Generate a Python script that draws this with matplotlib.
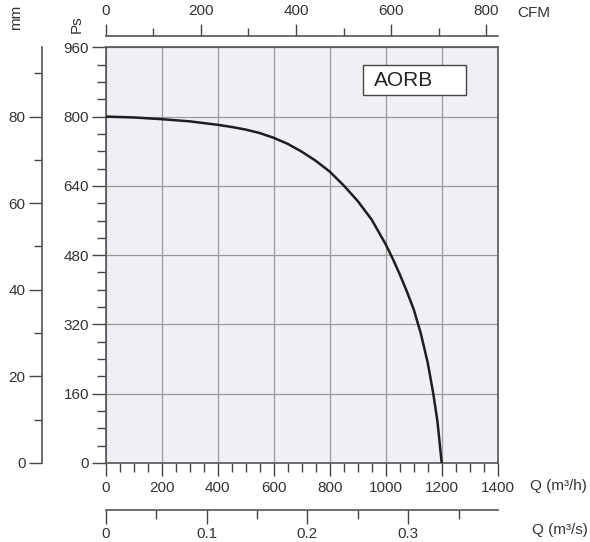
import matplotlib
matplotlib.use("Agg")
import matplotlib.pyplot as plt
from matplotlib.ticker import MultipleLocator, FixedLocator, FuncFormatter
from matplotlib.patches import Rectangle

plt.rcParams['font.family'] = ['Liberation Sans', 'DejaVu Sans']

# Data: flow rate Q (m3/h) vs static pressure Ps (Pa)
flow_m3h = [0, 100, 200, 300, 400, 450, 500, 550, 600, 650, 700, 750, 800, 850, 900,
            950, 1000, 1025, 1050, 1075, 1100, 1125, 1150, 1170, 1185, 1200]
pressure_pa = [800, 798, 794, 789, 781, 776, 770, 762, 751, 737, 719, 698, 673, 641, 605,
               562, 505, 472, 436, 397, 355, 300, 232, 160, 95, 0]
label = "AORB"

q_ticks = [0, 200, 400, 600, 800, 1000, 1200, 1400]
ps_ticks = [0, 160, 320, 480, 640, 800, 960]
cfm_ticks = [0, 200, 400, 600, 800]
m3s_ticks = [0, 0.1, 0.2, 0.3]
mm_ticks = [0, 20, 40, 60, 80]

W, H = 590, 542
fig = plt.figure(figsize=(W / 100, H / 100), dpi=100)
x0, x1 = 105.7, 497.7
y0, y1 = 463.0, 47.3
ax = fig.add_axes([x0 / W, 1 - y0 / H, (x1 - x0) / W, (y0 - y1) / H])
ax.set_facecolor('#eef0f4')

ax.plot(flow_m3h, pressure_pa, color='#1e1e1e', lw=1.8, zorder=3,
        solid_joinstyle='round')
ax.set_xlim(0, 1400)
ax.set_ylim(0, 960)

edge = '#555555'
tick_kw = dict(colors='#444444', labelcolor='#333333', labelsize=11)
ax.xaxis.set_major_locator(FixedLocator(q_ticks))
ax.xaxis.set_minor_locator(MultipleLocator(50))
ax.yaxis.set_major_locator(FixedLocator(ps_ticks))
ax.yaxis.set_minor_locator(MultipleLocator(40))
ax.tick_params(axis='x', which='major', direction='out', length=9, width=1, pad=4, **tick_kw)
ax.tick_params(axis='x', which='minor', direction='out', length=6.5, width=1, colors='#444444')
ax.tick_params(axis='y', which='major', direction='out', length=10, width=1, pad=2, **tick_kw)
ax.tick_params(axis='y', which='minor', direction='out', length=6.5, width=1, colors='#444444')
ax.grid(True, which='major', color='#9a9a9a', lw=0.9)
ax.set_axisbelow(True)
for s in ax.spines.values():
    s.set_color(edge)
    s.set_linewidth(1.2)

fmt = FuncFormatter(lambda v, _: f"{v:g}")

# Top CFM axis
cfm_per_m3h = 0.58858
top = ax.secondary_xaxis(1 + 11 / (y0 - y1),
                         functions=(lambda q: q * cfm_per_m3h, lambda c: c / cfm_per_m3h))
top.xaxis.set_major_locator(FixedLocator(cfm_ticks))
top.xaxis.set_minor_locator(MultipleLocator(100))
top.xaxis.set_major_formatter(fmt)
top.tick_params(which='major', direction='out', length=9, width=1, pad=4, **tick_kw)
top.tick_params(which='minor', direction='out', length=6, width=1, colors='#444444')
top.spines['top'].set_color(edge)
top.spines['top'].set_linewidth(1.2)

# Bottom m3/s axis
bot = ax.secondary_xaxis(-(510 - y0) / (y0 - y1),
                         functions=(lambda q: q / 3600.0, lambda s: s * 3600.0))
bot.xaxis.set_major_locator(FixedLocator(m3s_ticks))
bot.xaxis.set_minor_locator(FixedLocator([0.05, 0.15, 0.25, 0.35]))
bot.xaxis.set_major_formatter(fmt)
bot.tick_params(which='major', direction='out', length=10, width=1, pad=2, **tick_kw)
bot.tick_params(which='minor', direction='out', length=6.5, width=1, colors='#444444')
bot.spines['bottom'].set_color(edge)
bot.spines['bottom'].set_linewidth(1.2)

# Left mm axis
left = ax.secondary_yaxis((41.5 - x0) / (x1 - x0),
                          functions=(lambda p: p / 10.0, lambda m: m * 10.0))
left.yaxis.set_major_locator(FixedLocator(mm_ticks))
left.yaxis.set_minor_locator(FixedLocator([10, 30, 50, 70, 90]))
left.yaxis.set_major_formatter(fmt)
left.tick_params(which='major', direction='out', length=9.5, width=1, pad=2, **tick_kw)
left.tick_params(which='minor', direction='out', length=6, width=1, colors='#444444')
left.spines['left'].set_color(edge)
left.spines['left'].set_linewidth(1.2)

# Axis titles
fig.text(16 / W, 1 - 17 / H, 'mm', rotation=90, ha='center', va='center', fontsize=11, color='#333333')
fig.text(77 / W, 1 - 24 / H, 'Ps', rotation=90, ha='center', va='center', fontsize=11, color='#333333')
fig.text(517 / W, 1 - 13 / H, 'CFM', ha='left', va='center', fontsize=11, color='#333333')
fig.text(530 / W, 1 - 486 / H, 'Q (m³/h)', ha='left', va='center', fontsize=11, color='#333333')
fig.text(532 / W, 1 - 530 / H, 'Q (m³/s)', ha='left', va='center', fontsize=11, color='#333333')

# Model label box
ax.add_patch(Rectangle((0.656, 0.885), 0.262, 0.072, transform=ax.transAxes,
                       facecolor='white', edgecolor='#444444', lw=1.0, zorder=4))
ax.text(0.684, 0.921, label, transform=ax.transAxes, ha='left', va='center',
        fontsize=15, color='#222222', zorder=5)

fig.savefig('out.png', dpi=100)
